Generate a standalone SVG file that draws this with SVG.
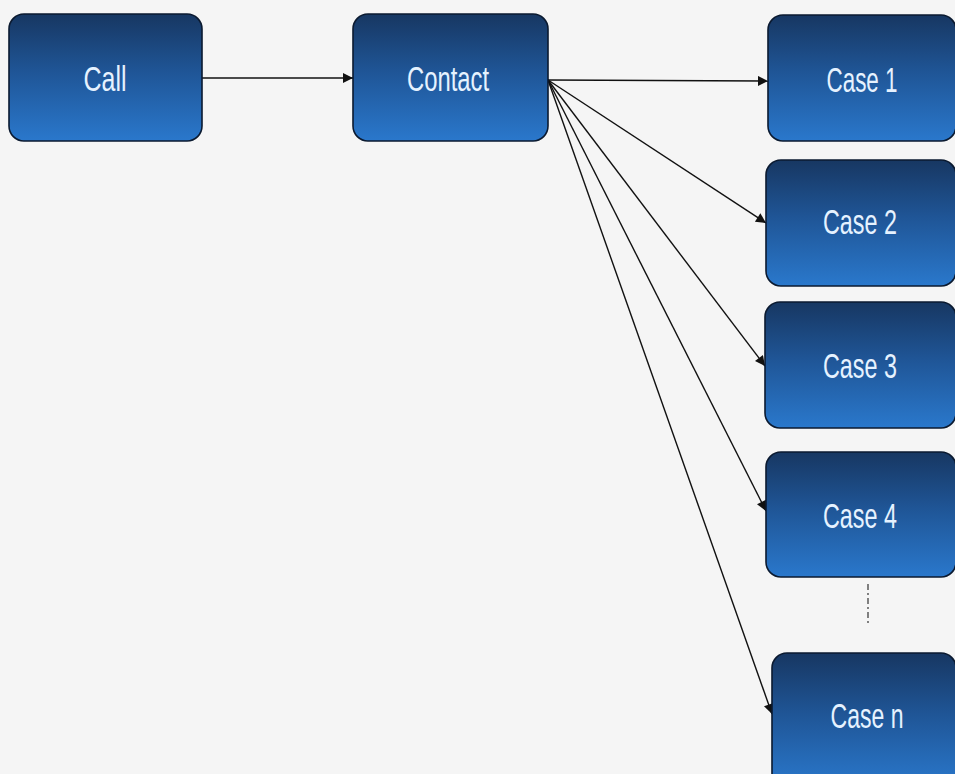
<svg xmlns="http://www.w3.org/2000/svg" width="955" height="774" viewBox="0 0 955 774">
  <defs>
    <linearGradient id="boxFill" x1="0" y1="0" x2="0" y2="1">
      <stop offset="0" stop-color="#173762"/>
      <stop offset="0.45" stop-color="#1f5596"/>
      <stop offset="1" stop-color="#2a78cc"/>
    </linearGradient>
    <marker id="arrow" viewBox="0 0 10 10" refX="10" refY="5" markerWidth="12" markerHeight="10" markerUnits="userSpaceOnUse" orient="auto">
      <path d="M0,0 L10,5 L0,10 z" fill="#111"/>
    </marker>
    <style>
      .box { fill: url(#boxFill); stroke: #0b1a30; stroke-width: 1.6; }
      .label { font-family: "Liberation Sans", Arial, sans-serif; font-size: 35px; fill: #e6f2ff; text-anchor: middle; }
      .link { stroke: #111; stroke-width: 1.4; fill: none; marker-end: url(#arrow); }
    </style>
  </defs>

  <rect width="955" height="774" fill="#f5f5f5"/>

  <g id="connectors">
    <line class="link" x1="202" y1="78" x2="353" y2="78"/>
    <line class="link" x1="548" y1="80" x2="768" y2="81"/>
    <line class="link" x1="548" y1="80" x2="766" y2="223"/>
    <line class="link" x1="548" y1="80" x2="765" y2="366"/>
    <line class="link" x1="548" y1="80" x2="766" y2="511"/>
    <line class="link" x1="548" y1="80" x2="772" y2="714"/>
    <line x1="868" y1="584" x2="868" y2="626" stroke="#333" stroke-width="1.2" stroke-dasharray="6,3,2,3"/>
  </g>

  <g id="call">
    <rect class="box" x="9" y="14" width="193" height="127" rx="15"/>
    <text class="label" x="105" y="91" textLength="43" lengthAdjust="spacingAndGlyphs">Call</text>
  </g>
  <g id="contact">
    <rect class="box" x="353" y="14" width="195" height="127" rx="15"/>
    <text class="label" x="448" y="91" textLength="82" lengthAdjust="spacingAndGlyphs">Contact</text>
  </g>
  <g id="case1">
    <rect class="box" x="768" y="15" width="188" height="126" rx="15"/>
    <text class="label" x="862" y="92" textLength="71" lengthAdjust="spacingAndGlyphs">Case 1</text>
  </g>
  <g id="case2">
    <rect class="box" x="766" y="160" width="190" height="126" rx="15"/>
    <text class="label" x="860" y="234" textLength="74" lengthAdjust="spacingAndGlyphs">Case 2</text>
  </g>
  <g id="case3">
    <rect class="box" x="765" y="302" width="191" height="126" rx="15"/>
    <text class="label" x="860" y="378" textLength="74" lengthAdjust="spacingAndGlyphs">Case 3</text>
  </g>
  <g id="case4">
    <rect class="box" x="766" y="452" width="190" height="125" rx="15"/>
    <text class="label" x="860" y="528" textLength="74" lengthAdjust="spacingAndGlyphs">Case 4</text>
  </g>
  <g id="casen">
    <rect class="box" x="772" y="653" width="184" height="135" rx="15"/>
    <text class="label" x="867" y="728" textLength="73" lengthAdjust="spacingAndGlyphs">Case n</text>
  </g>
</svg>
